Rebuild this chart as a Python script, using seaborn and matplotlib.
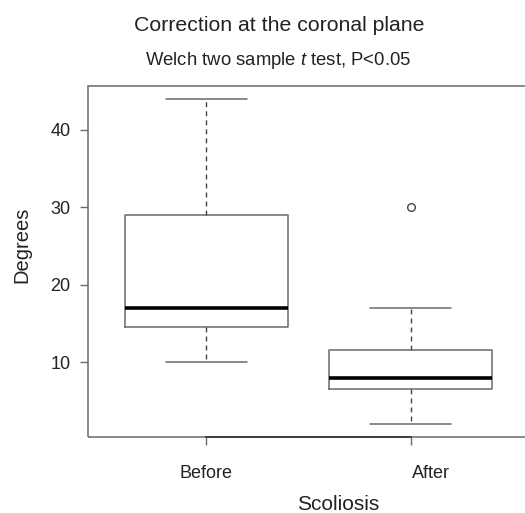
import matplotlib
matplotlib.use('Agg')
import matplotlib.pyplot as plt
import matplotlib.transforms as mtransforms
from matplotlib.patches import Rectangle
import pandas as pd
import seaborn as sns

# raw degree values (quartiles)
before = [10, 12, 14.5, 16, 17, 22, 29, 35, 44]
after = [2, 5, 6.5, 7, 8, 10, 11.5, 17, 30]
groups = ['Before', 'After']
y_ticks = [10, 20, 30, 40]

df = pd.DataFrame({
    'Scoliosis': ['Before'] * len(before) + ['After'] * len(after),
    'Degrees': before + after,
})

sns.set_style('white')
plt.rcParams['font.family'] = ['Liberation Sans', 'DejaVu Sans']
plt.rcParams['mathtext.fontset'] = 'custom'
plt.rcParams['mathtext.it'] = 'Liberation Sans:italic'
plt.rcParams['mathtext.rm'] = 'Liberation Sans'

text_color = '#222222'
line_color = '#6a6a6a'

fig = plt.figure(figsize=(5.25, 5.13), dpi=100)
ax = fig.add_axes([88 / 525, 76 / 513, 441 / 525, 351 / 513])

sns.boxplot(data=df, x='Scoliosis', y='Degrees', order=groups, ax=ax,
            fill=False, color=line_color, width=0.8, whis=1.5, linewidth=1.1,
            whiskerprops=dict(linestyle=(0, (3.5, 3)), color='#444444', linewidth=1),
            capprops=dict(color=line_color, linewidth=1.1),
            boxprops=dict(color=line_color, linewidth=1.1),
            medianprops=dict(color='black', linewidth=2.6),
            flierprops=dict(marker='o', markersize=5.5, markerfacecolor='none',
                            markeredgecolor='#444444', markeredgewidth=1))

ax.set_xlim(-0.58, 1.58)
ax.set_ylim(0.32, 45.68)
ax.set_yticks(y_ticks)

# R-style frame: grey box + darker axis line between first and last tick
for side in ['left', 'right', 'top']:
    ax.spines[side].set_visible(False)
ax.spines['bottom'].set_bounds(0, 1)
ax.spines['bottom'].set_color('#333333')
ax.spines['bottom'].set_linewidth(1.2)
ax.add_patch(Rectangle((0, 0), 1, 1, transform=ax.transAxes, fill=False,
                       edgecolor=line_color, linewidth=1.1, clip_on=False, zorder=0))

ax.tick_params(axis='both', direction='out', length=5.5, width=1,
               color=line_color, labelsize=13, labelcolor=text_color,
               bottom=True, left=True)
ax.tick_params(axis='y', pad=7)
ax.tick_params(axis='x', pad=15)

# the "After" label sits a bit right of its tick in the reference
lbl = ax.xaxis.get_major_ticks()[1].label1
lbl.set_transform(lbl.get_transform() +
                  mtransforms.ScaledTranslation(20 / 100, 0, fig.dpi_scale_trans))

ax.set_xlabel('Scoliosis', fontsize=15, color=text_color)
ax.xaxis.set_label_coords((338 - 88) / 441, (437 - 495) / 351)
ax.set_ylabel('Degrees', fontsize=14.5, color=text_color)
ax.yaxis.set_label_coords((31 - 88) / 441, (437 - 245) / 351)

fig.text(279 / 525, 1 - 31 / 513, 'Correction at the coronal plane',
         ha='center', va='baseline', fontsize=15.3, color=text_color)
fig.text(278 / 525, 1 - 65 / 513, 'Welch two sample $t$ test, P<0.05',
         ha='center', va='baseline', fontsize=13.3, color=text_color)

fig.savefig('out.png', dpi=100)
